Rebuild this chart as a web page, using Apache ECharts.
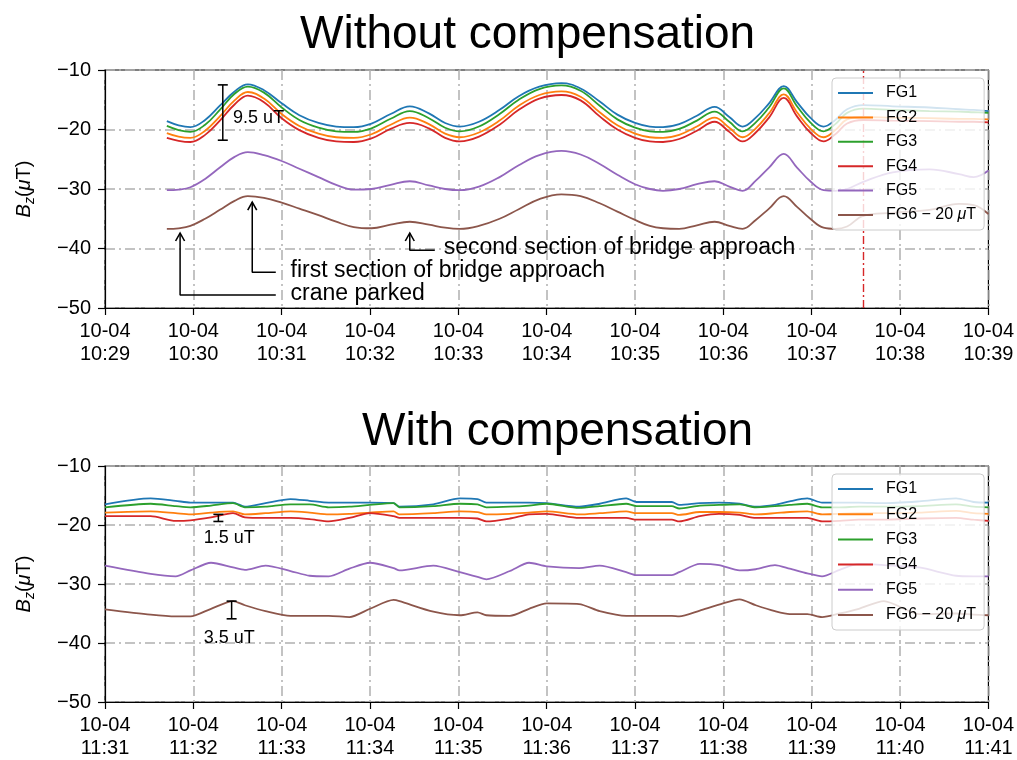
<!DOCTYPE html>
<html><head><meta charset="utf-8">
<script src="https://cdn.jsdelivr.net/npm/echarts@6/dist/echarts.min.js"></script>
<style>html,body{margin:0;padding:0;background:#fff}#c{width:1017px;height:760px}</style>
</head><body><div id="c"></div>
<script>
// ---------- data ----------
const seriesNames = ['FG1','FG2','FG3','FG4','FG5','FG6−20μT'];
const colors = ['#1f77b4','#ff7f0e','#2ca02c','#d62728','#9467bd','#8c564b'];

const topTimes = ['10:29:42','10:29:50','10:29:58','10:30:08','10:30:18','10:30:28','10:30:37','10:30:48','10:31:00','10:31:12','10:31:25','10:31:37','10:31:49','10:32:01','10:32:14','10:32:27','10:32:40','10:32:51','10:33:01','10:33:14','10:33:28','10:33:41','10:33:55','10:34:10','10:34:23','10:34:36','10:34:48','10:35:00','10:35:10','10:35:19','10:35:30','10:35:42','10:35:54','10:36:04','10:36:13','10:36:22','10:36:31','10:36:41','10:36:50','10:36:59','10:37:08','10:37:16','10:37:24','10:37:35','10:37:55','10:38:20','10:38:40','10:38:50','10:39:00'];
const topFG1 = [-18.6,-19.3,-19.6,-18.4,-16.0,-13.6,-12.4,-13.4,-15.6,-17.6,-18.9,-19.5,-19.6,-19.0,-17.4,-16.1,-17.3,-18.9,-19.5,-18.7,-16.7,-14.4,-12.8,-12.2,-13.1,-15.3,-17.5,-18.9,-19.5,-19.6,-19.1,-17.7,-16.2,-17.9,-19.5,-18.0,-15.6,-12.7,-15.4,-18.0,-19.5,-18.4,-16.6,-15.9,-16.1,-16.3,-16.6,-16.7,-16.9];
const topFG2 = [-20.6,-21.2,-21.4,-20.2,-17.8,-15.1,-13.7,-14.8,-17.4,-19.4,-20.7,-21.3,-21.4,-20.8,-19.2,-18.0,-19.1,-20.7,-21.3,-20.5,-18.5,-16.0,-14.2,-13.6,-14.5,-17.1,-19.3,-20.7,-21.3,-21.4,-20.9,-19.5,-18.0,-19.7,-21.3,-19.8,-17.3,-14.1,-17.1,-19.8,-21.3,-20.1,-18.3,-17.9,-18.0,-18.1,-18.2,-18.2,-18.3];
const topFG3 = [-19.4,-20.1,-20.4,-19.2,-16.7,-14.0,-12.8,-13.8,-16.3,-18.4,-19.7,-20.3,-20.4,-19.8,-18.2,-16.9,-18.1,-19.7,-20.3,-19.5,-17.4,-15.0,-13.2,-12.6,-13.5,-16.0,-18.3,-19.7,-20.3,-20.4,-19.9,-18.5,-17.0,-18.7,-20.3,-18.8,-16.3,-13.1,-16.1,-18.8,-20.3,-19.1,-17.2,-16.5,-16.7,-16.9,-17.0,-17.1,-17.2];
const topFG4 = [-21.4,-21.9,-22.1,-20.9,-18.5,-15.8,-14.3,-15.4,-18.1,-20.1,-21.4,-22.0,-22.1,-21.5,-19.9,-18.9,-19.8,-21.4,-22.0,-21.2,-19.2,-16.7,-14.8,-14.2,-15.1,-17.8,-20.0,-21.4,-22.0,-22.1,-21.6,-20.2,-18.7,-20.4,-22.0,-20.5,-18.0,-14.7,-17.8,-20.5,-22.0,-20.8,-19.0,-18.4,-18.5,-18.6,-18.7,-18.7,-18.8];
const topFG5 = [-30.2,-30.1,-29.7,-28.3,-26.4,-24.6,-23.8,-24.3,-25.3,-26.6,-28.0,-29.3,-30.1,-30.0,-29.3,-28.7,-29.4,-30.0,-30.2,-29.6,-28.0,-26.0,-24.3,-23.6,-24.2,-25.8,-27.6,-29.2,-30.0,-30.3,-30.0,-29.2,-28.7,-29.6,-30.3,-28.6,-26.4,-24.1,-26.4,-28.7,-30.2,-30.3,-30.0,-28.8,-27.2,-26.7,-27.5,-28.0,-26.9];
const topFG6 = [-36.7,-36.6,-36.2,-35.0,-33.5,-32.0,-31.2,-31.5,-32.3,-33.3,-34.4,-35.5,-36.4,-36.6,-36.0,-35.5,-36.0,-36.5,-36.7,-36.2,-35.0,-33.4,-31.7,-30.9,-31.2,-32.4,-33.8,-35.2,-36.2,-36.6,-36.7,-36.1,-35.5,-36.2,-36.7,-35.2,-33.3,-31.2,-33.0,-35.0,-36.5,-36.7,-36.3,-34.5,-34.0,-33.5,-32.5,-32.7,-34.2];

const botTimes = ['11:31:00','11:31:31','11:31:48','11:31:58','11:32:12','11:32:27','11:32:35','11:32:49','11:33:06','11:33:19','11:33:32','11:33:46','11:34:00','11:34:16','11:34:20','11:34:43','11:35:01','11:35:13','11:35:19','11:35:35','11:35:48','11:36:00','11:36:22','11:36:36','11:36:54','11:37:01','11:37:13','11:37:25','11:37:30','11:37:44','11:37:57','11:38:11','11:38:22','11:38:35','11:38:45','11:38:57','11:39:07','11:39:19','11:39:32','11:39:49','11:40:13','11:40:38','11:40:50','11:41:00'];
const botFG1 = [-16.5,-15.5,-15.9,-16.2,-16.2,-16.2,-16.9,-16.3,-15.6,-15.9,-16.2,-16.2,-16.2,-16.3,-16.9,-16.5,-15.5,-15.6,-16.2,-16.2,-16.2,-16.3,-16.9,-16.4,-15.5,-16.1,-16.1,-16.1,-16.6,-16.3,-16.2,-16.4,-16.9,-16.6,-16.0,-15.5,-16.2,-16.2,-16.2,-16.3,-16.0,-15.5,-16.1,-16.2];
const botFG2 = [-17.9,-17.7,-18.0,-18.2,-17.9,-17.7,-18.2,-18.0,-17.7,-17.9,-18.2,-18.1,-17.9,-17.7,-18.2,-18.0,-17.7,-17.8,-18.2,-18.1,-17.9,-17.7,-18.2,-18.0,-17.7,-18.0,-18.0,-18.0,-18.3,-17.8,-17.8,-17.9,-18.2,-18.0,-17.8,-17.7,-18.2,-18.1,-18.0,-18.0,-17.9,-17.6,-18.0,-18.1];
const botFG3 = [-17.0,-16.4,-16.8,-17.0,-16.7,-16.3,-17.0,-16.9,-16.5,-16.5,-17.0,-16.9,-16.6,-16.3,-17.0,-16.8,-16.4,-16.5,-17.0,-16.9,-16.7,-16.4,-17.1,-16.8,-16.4,-16.8,-16.8,-16.8,-17.2,-16.7,-16.6,-16.5,-17.0,-16.8,-16.6,-16.4,-17.0,-17.0,-16.9,-16.9,-16.8,-16.5,-16.9,-17.0];
const botFG4 = [-18.5,-18.5,-19.3,-19.2,-18.7,-18.0,-18.7,-18.8,-18.8,-19.0,-19.4,-18.8,-18.0,-18.5,-18.8,-18.8,-18.8,-18.9,-19.4,-18.9,-18.2,-18.1,-18.8,-18.8,-18.8,-19.1,-19.1,-19.1,-19.4,-18.5,-18.1,-18.3,-18.8,-18.8,-18.8,-18.8,-19.4,-19.3,-19.1,-19.1,-18.9,-18.8,-19.1,-19.3];
const botFG5 = [-26.9,-28.3,-28.7,-27.7,-26.4,-27.2,-27.6,-26.9,-27.8,-28.6,-28.7,-27.4,-26.4,-27.3,-27.7,-26.9,-28.0,-28.8,-29.2,-27.8,-26.4,-27.0,-27.3,-26.9,-28.0,-28.5,-28.5,-28.5,-28.0,-26.6,-26.8,-27.7,-27.5,-26.8,-27.4,-28.2,-28.7,-27.6,-26.6,-26.8,-27.2,-28.6,-28.7,-28.7];
const botFG6 = [-34.3,-35.2,-35.5,-35.5,-34.2,-32.9,-33.6,-34.6,-35.4,-35.4,-35.4,-35.6,-34.2,-32.7,-32.9,-34.7,-35.3,-34.8,-35.3,-35.4,-34.2,-33.3,-33.4,-34.6,-35.4,-35.4,-35.4,-35.4,-35.5,-34.5,-33.5,-32.6,-33.6,-34.6,-35.1,-35.1,-35.6,-35.0,-34.2,-32.9,-35.1,-35.0,-35.2,-35.3];

const xDateLabel = '10-04';
const xTickLabelsTop = ['10:29','10:30','10:31','10:32','10:33','10:34','10:35','10:36','10:37','10:38','10:39'];
const xTickLabelsBot = ['11:31','11:32','11:33','11:34','11:35','11:36','11:37','11:38','11:39','11:40','11:41'];
const yTickValues = [-50,-40,-30,-20,-10];
const yTickLabels = ['−50','−40','−30','−20','−10'];
const titles = ['Without compensation','With compensation'];
const markerTime = '10:37:35';

// annotations (data coordinates)
const topArrows = [
  {text:'crane parked', path:[['10:29:51',-37.4],['10:29:51',-47.8],['10:30:56',-47.8]], at:['10:31:06',-47.6]},
  {text:'first section of bridge approach', path:[['10:30:40',-32.2],['10:30:40',-44.0],['10:30:56',-44.0]], at:['10:31:06',-43.7]},
  {text:'second section of bridge approach', path:[['10:32:27',-37.4],['10:32:27',-40.3],['10:32:44',-40.3]], at:['10:32:50',-39.9]}
];
const topBars = [{t:'10:30:20', lo:-21.8, hi:-12.5, text:'9.5 uT', at:['10:30:27',-18.1]}];
const botBars = [
  {t:'11:32:17', lo:-19.4, hi:-18.2, text:'1.5 uT', at:['11:32:07',-22.2]},
  {t:'11:32:26', lo:-35.9, hi:-32.9, text:'3.5 uT', at:['11:32:07',-39.1]}
];

// ---------- build ----------
const FONT = '"Liberation Sans", Arial, Helvetica, sans-serif';
function toSec(t){const p=t.split(':').map(Number);return p[0]*3600+p[1]*60+p[2];}
const starts = [toSec('10:29:00'), toSec('11:31:00')];
const topVals = [topFG1,topFG2,topFG3,topFG4,topFG5,topFG6];
const botVals = [botFG1,botFG2,botFG3,botFG4,botFG5,botFG6];

const series = [];
function addLines(times, vals, g, smooth){
  vals.forEach((arr,i)=>{
    const s = {
      type:'line', name:seriesNames[i], xAxisIndex:g, yAxisIndex:g,
      data: times.map((t,k)=>[toSec(t)-starts[g], arr[k]]),
      symbol:'none', smooth:smooth,
      lineStyle:{width:1.8,color:colors[i]}, itemStyle:{color:colors[i]},
      z:2, silent:true, animation:false
    };
    if (g===0 && i===3){
      s.markLine = {symbol:'none', silent:true, animation:false, label:{show:false},
        lineStyle:{color:'#d62728', type:[8,3,2,3], width:1.4},
        data:[{xAxis: toSec(markerTime)-starts[0]}]};
    }
    series.push(s);
  });
}
addLines(topTimes, topVals, 0, 0.4);
addLines(botTimes, botVals, 1, 0.25);

const arrowHead = 'path://M0,9 L5,0 L10,9';
topArrows.forEach(a=>{
  series.push({type:'line', xAxisIndex:0, yAxisIndex:0, silent:true, animation:false, z:5,
    data:a.path.map(p=>[toSec(p[0])-starts[0], p[1]]),
    symbol:(v,p)=> p.dataIndex===0 ? arrowHead : 'none',
    symbolSize:[9,8], symbolOffset:[0,'50%'], showAllSymbol:true,
    itemStyle:{color:'none', borderColor:'#000', borderWidth:1.5},
    lineStyle:{color:'#000', width:1.5}});
});
function addBars(bars, g){
  bars.forEach(b=>{
    const x = toSec(b.t)-starts[g];
    series.push({type:'line', xAxisIndex:g, yAxisIndex:g, silent:true, animation:false, z:5,
      data:[[x,b.lo],[x,b.hi]], symbol:'rect', symbolSize:[10,1.6], showAllSymbol:true,
      itemStyle:{color:'#000'}, lineStyle:{color:'#000', width:1.5}});
  });
}
addBars(topBars,0); addBars(botBars,1);

function addTexts(items, g, size){
  series.push({type:'scatter', xAxisIndex:g, yAxisIndex:g, silent:true, animation:false, z:6,
    symbolSize:0, itemStyle:{color:'#000', opacity:1},
    data: items.map(it=>({name:it.text, value:[toSec(it.at[0])-starts[g], it.at[1]]})),
    label:{show:true, position:'right', distance:0, formatter:p=>p.name, opacity:1,
      color:'#000', fontSize:size, fontFamily:FONT, textBorderWidth:0}});
}
addTexts(topArrows,0,23);
addTexts(topBars,0,18);
addTexts(botBars,1,18);

const gridTops = [70, 466];
const gridH = [238, 239];
const tickLists = [xTickLabelsTop, xTickLabelsBot];

function legendCfg(top, gap){
  return {data:seriesNames, orient:'vertical', left:832, top:top, icon:'rect', itemWidth:35, itemHeight:2, itemGap:gap,
    padding:[7,8,7,6], backgroundColor:'rgba(255,255,255,0.8)', borderColor:'#cccccc', borderWidth:1, borderRadius:4,
    selectedMode:false, z:10,
    formatter:n=> n.indexOf('FG6')===0 ? 'FG6 − 20 {m|μ}T' : n,
    textStyle:{fontSize:16, lineHeight:16, color:'#000', fontFamily:FONT, padding:[0,0,0,8],
      rich:{m:{fontSize:16, lineHeight:16, fontStyle:'italic', fontFamily:FONT, color:'#000'}}}};
}

const yName = '{b|B}{z|z}{n|(}{m|μ}{n|T)}';
const yRich = {
  b:{fontSize:20, fontStyle:'italic', fontFamily:FONT, color:'#000', lineHeight:26},
  z:{fontSize:14, fontStyle:'italic', fontFamily:FONT, color:'#000', lineHeight:14, verticalAlign:'bottom'},
  n:{fontSize:20, fontFamily:FONT, color:'#000', lineHeight:26},
  m:{fontSize:20, fontStyle:'italic', fontFamily:FONT, color:'#000', lineHeight:26}
};

const option = {
  animation:false,
  backgroundColor:'#fff',
  title: titles.map((t,i)=>({text:t, left: i===0?300:362, top: i===0?12:409, padding:0,
    textStyle:{fontSize:46, fontWeight:'normal', color:'#000', fontFamily:FONT}})),
  legend:[legendCfg(78, 8.4), legendCfg(474, 9.2)],
  grid: [0,1].map(i=>({left:105, right:27, top:gridTops[i], height:gridH[i], show:true,
    borderColor:'#000', borderWidth:1.2, backgroundColor:'transparent', containLabel:false})),
  xAxis: [0,1].map(i=>({type:'value', gridIndex:i, min:0, max:600, interval:60,
    axisLine:{show:true, onZero:false, lineStyle:{color:'#000', width:1.2}},
    axisTick:{show:true, inside:false, length:7, lineStyle:{color:'#000', width:1.2}},
    axisLabel:{show:true, margin:12, fontSize:20, lineHeight:23, color:'#000', fontFamily:FONT,
      showMinLabel:true, showMaxLabel:true,
      formatter:v=> xDateLabel + '\n' + tickLists[i][Math.round(v/60)]},
    splitLine:{show:true, lineStyle:{color:'#b0b0b0', type:[10,4,2,4], width:1.5}}})),
  yAxis: [0,1].map(i=>({type:'value', gridIndex:i, min:-50, max:-10, interval:10,
    name:yName, nameLocation:'middle', nameGap:68, nameRotate:90,
    nameTextStyle:{rich:yRich},
    axisLine:{show:true, onZero:false, lineStyle:{color:'#000', width:1.2}},
    axisTick:{show:true, inside:false, length:7, lineStyle:{color:'#000', width:1.2}},
    axisLabel:{show:true, margin:14, fontSize:20, color:'#000', fontFamily:FONT,
      formatter:v=> yTickLabels[yTickValues.indexOf(v)]},
    splitLine:{show:true, lineStyle:{color:'#b0b0b0', type:[10,4,2,4], width:1.5}}})),
  series: series
};
const chart = echarts.init(document.getElementById('c'), null, {renderer:'canvas'});
chart.setOption(option);
</script></body></html>
